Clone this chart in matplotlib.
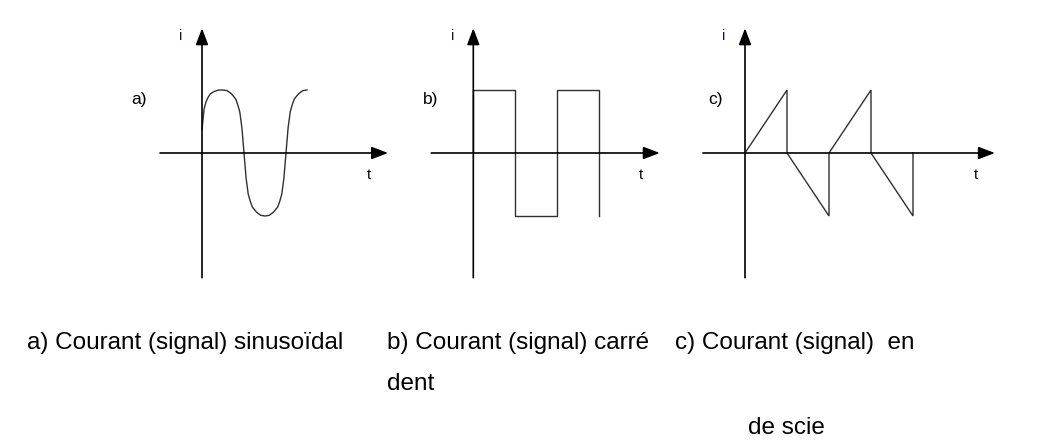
#draws the three current shapes: sine, square and sawtooth

import matplotlib.pyplot as plt
import numpy as np

# signal values, t in half periods, i in amplitude units
sine_t = [0.0, 0.05, 0.1, 0.15, 0.2, 0.3, 0.4, 0.5, 0.6, 0.7, 0.8, 0.85,
          0.9, 0.95, 1.0, 1.05, 1.1, 1.15, 1.2, 1.3, 1.4, 1.5, 1.6, 1.7,
          1.8, 1.85, 1.9, 1.95, 2.0, 2.05, 2.1, 2.15, 2.2, 2.3, 2.4, 2.5]
sine_i = [0.37, 0.7, 0.82, 0.89, 0.94, 0.98, 1.0, 1.0, 0.99, 0.94, 0.86, 0.77,
          0.65, 0.4, 0.0, -0.4, -0.65, -0.77, -0.86, -0.94, -0.99, -1.0, -0.99, -0.94,
          -0.86, -0.77, -0.65, -0.4, 0.0, 0.4, 0.65, 0.77, 0.86, 0.94, 0.99, 1.0]

square_t = [0, 0, 1, 1, 2, 2, 3, 3]
square_i = [0, 1, 1, -1, -1, 1, 1, -1]

saw_t = [0, 1, 1, 2, 2, 3, 3, 4, 4]
saw_i = [0, 1, 0, -1, 0, 1, 0, -1, 0]

panel_labels = ['a)', 'b)', 'c)']
captions = ['a) Courant (signal) sinusoïdal', 'b) Courant (signal) carré',
            'c) Courant (signal)  en']

W, H = 1041, 448
dpi = 100
fig = plt.figure(figsize=(W / dpi, H / dpi), dpi=dpi)
plt.rcParams['font.family'] = ['Liberation Sans', 'DejaVu Sans']

sx, sy = 42.0, 63.0  # pixels per unit
origins = [(202, 153), (473.3, 153), (745, 153)]
x_ends = [4.43, 4.44, 5.95]
label_x = [-1.69, -1.19, -0.88]
signals = [(sine_t, sine_i), (square_t, square_i), (saw_t, saw_i)]
line_col = '#303030'

for k in range(3):
    ox, oy = origins[k]
    xlo, xhi = -1.8, x_ends[k] + 0.3
    ylo, yhi = -2.3, 2.3
    left = (ox + xlo * sx) / W
    bottom = (H - oy + ylo * sy) / H
    ax = fig.add_axes([left, bottom, (xhi - xlo) * sx / W, (yhi - ylo) * sy / H])
    ax.set_xlim(xlo, xhi)
    ax.set_ylim(ylo, yhi)
    ax.axis('off')

    # axes with arrow heads
    ax.annotate('', xy=(x_ends[k], 0), xytext=(-1.0, 0),
                arrowprops=dict(arrowstyle='-|>,head_length=1.0,head_width=0.38',
                                color='black', lw=1.2, shrinkA=0, shrinkB=0))
    ax.annotate('', xy=(0, 1.98), xytext=(0, -1.98),
                arrowprops=dict(arrowstyle='-|>,head_length=1.0,head_width=0.38',
                                color='black', lw=1.2, shrinkA=0, shrinkB=0))

    t, i = signals[k]
    ax.plot(t, i, color=line_col, lw=1.0, solid_joinstyle='miter')

    ax.text(-0.5, 1.85, 'i', fontsize=10.5, color='#10106a', ha='center', va='center')
    ax.text(x_ends[k] - 0.45, -0.35, 't', fontsize=10.5, color='black',
            ha='center', va='center')
    ax.text(label_x[k], 0.85, panel_labels[k], fontsize=12.5,
            color='black', ha='left', va='center')

# captions under the drawings
cap_x = [27, 387, 675]
for x, s in zip(cap_x, captions):
    fig.text(x / W, 1 - 343 / H, s, fontsize=17.5, ha='left', va='center')
fig.text(387 / W, 1 - 384 / H, 'dent', fontsize=17.5, ha='left', va='center')
fig.text(748 / W, 1 - 428 / H, 'de scie', fontsize=17.5, ha='left', va='center')

fig.savefig('out.png', dpi=dpi, facecolor='white')
